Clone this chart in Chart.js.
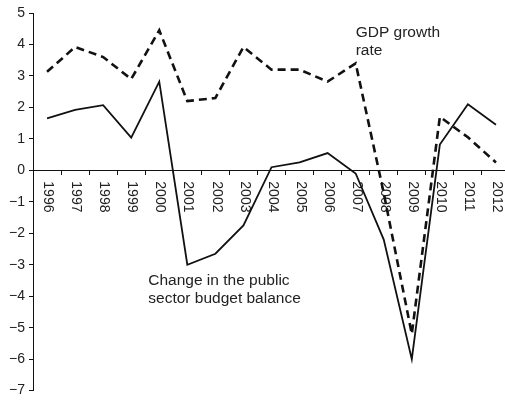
<!DOCTYPE html>
<html>
<head>
<meta charset="utf-8">
<script src="https://cdn.jsdelivr.net/npm/chart.js@4/dist/chart.umd.min.js"></script>
<style>
html,body{margin:0;padding:0;background:#fff;overflow:hidden;width:505px;height:403px;}
canvas{display:block;}
</style>
</head>
<body>
<canvas id="c" width="512" height="403"></canvas>
<script>
const years = ['1996','1997','1998','1999','2000','2001','2002','2003','2004','2005','2006','2007','2008','2009','2010','2011','2012'];
const budgetChange = [1.65, 1.92, 2.07, 1.04, 2.82, -3.0, -2.65, -1.75, 0.1, 0.25, 0.55, -0.1, -2.2, -6.0, 0.82, 2.1, 1.45];
const gdpGrowth = [3.13, 3.92, 3.6, 2.9, 4.45, 2.2, 2.3, 3.92, 3.2, 3.2, 2.82, 3.4, -0.72, -5.2, 1.7, 1.05, 0.25];
const yTicks = [5,4,3,2,1,0,-1,-2,-3,-4,-5,-6,-7];

const textColor = '#222';
const fontFam = '"Liberation Sans", Arial, Helvetica, sans-serif';

const overlay = {
  id: 'overlay',
  beforeDatasetsDraw(chart) {
    const ctx = chart.ctx;
    const xs = chart.scales.x, ys = chart.scales.y;
    const y0 = ys.getPixelForValue(0);
    ctx.save();
    ctx.fillStyle = textColor;
    ctx.font = '14px ' + fontFam;
    ctx.textAlign = 'left';
    ctx.textBaseline = 'middle';
    years.forEach((lab, i) => {
      const x = xs.getPixelForValue(i);
      ctx.save();
      ctx.translate(x + 1, y0 + 11);
      ctx.rotate(Math.PI / 2);
      ctx.fillText(lab, 0, 0);
      ctx.restore();
    });
    ctx.restore();
  },
  afterDatasetsDraw(chart) {
    const ctx = chart.ctx;
    const xs = chart.scales.x, ys = chart.scales.y;
    ctx.save();
    ctx.fillStyle = textColor;
    ctx.font = '15.5px ' + fontFam;
    ctx.textAlign = 'left';
    ctx.textBaseline = 'alphabetic';
    const gx = xs.getPixelForValue(11);
    const gy = ys.getPixelForValue(4.25);
    ctx.fillText('GDP growth', gx, gy);
    ctx.fillText('rate', gx, gy + 18);
    const cx = xs.getPixelForValue(4) - 11;
    const cy = ys.getPixelForValue(-3.65);
    ctx.fillText('Change in the public', cx, cy);
    ctx.fillText('sector budget balance', cx, cy + 18);
    ctx.restore();
  }
};

new Chart(document.getElementById('c'), {
  type: 'line',
  data: {
    labels: years,
    datasets: [
      {
        label: 'Change in the public sector budget balance',
        data: budgetChange,
        borderColor: '#111',
        borderWidth: 1.8,
        pointRadius: 0,
        tension: 0,
        fill: false
      },
      {
        label: 'GDP growth rate',
        data: gdpGrowth,
        borderColor: '#111',
        borderWidth: 2.6,
        borderDash: [8, 5],
        pointRadius: 0,
        tension: 0,
        fill: false
      }
    ]
  },
  options: {
    responsive: false,
    animation: false,
    devicePixelRatio: 1,
    layout: { padding: { top: 13, bottom: 9, left: 0, right: 2 } },
    plugins: { legend: { display: false }, tooltip: { enabled: false } },
    scales: {
      x: {
        type: 'category',
        position: { y: 0 },
        offset: true,
        grid: { offset: true, drawOnChartArea: false, drawTicks: true, tickLength: 4, color: '#111' },
        border: { color: '#111', width: 1 },
        ticks: { display: false },
        afterFit(s) { s.height = 0; }
      },
      y: {
        position: 'left',
        min: -7,
        max: 5,
        afterBuildTicks(s) { s.ticks = yTicks.map(v => ({ value: v })); },
        grid: { drawOnChartArea: false, drawTicks: true, tickLength: 4, color: '#111' },
        border: { color: '#111', width: 1 },
        ticks: {
          padding: 4,
          color: textColor,
          font: { size: 14, family: fontFam },
          callback: v => (v < 0 ? '\u2212' + Math.abs(v) : String(v))
        },
        afterFit(s) { s.width = 33; }
      }
    }
  },
  plugins: [overlay]
});
</script>
</body>
</html>
